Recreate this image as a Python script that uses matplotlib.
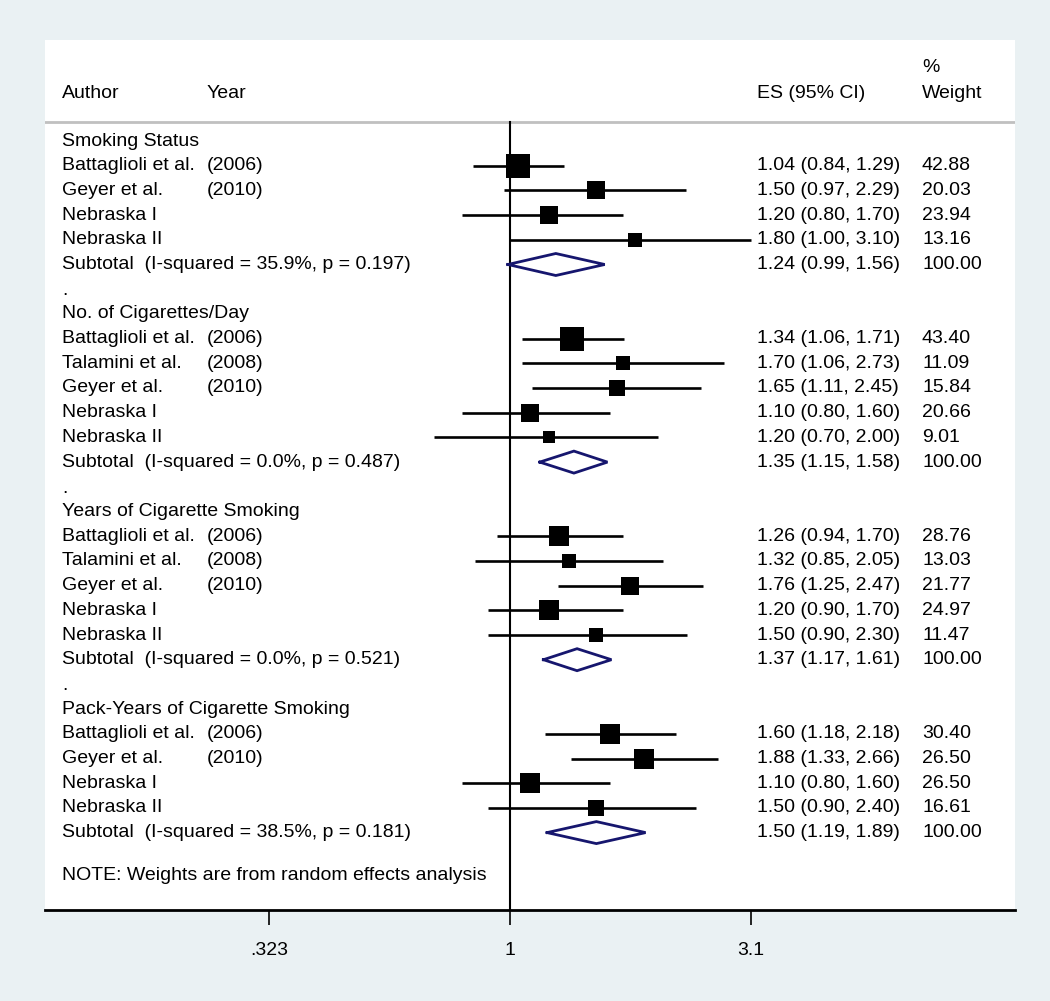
import numpy as np
import matplotlib
matplotlib.use("Agg")
import matplotlib.pyplot as plt
import matplotlib.transforms as mtransforms

plt.rcParams['font.family'] = ['Liberation Sans', 'DejaVu Sans']

# ---- data ----
groups = ["Smoking Status", "No. of Cigarettes/Day",
          "Years of Cigarette Smoking", "Pack-Years of Cigarette Smoking"]

authors = [
    ["Battaglioli et al.", "Geyer et al.", "Nebraska I", "Nebraska II"],
    ["Battaglioli et al.", "Talamini et al.", "Geyer et al.", "Nebraska I", "Nebraska II"],
    ["Battaglioli et al.", "Talamini et al.", "Geyer et al.", "Nebraska I", "Nebraska II"],
    ["Battaglioli et al.", "Geyer et al.", "Nebraska I", "Nebraska II"],
]
years = [
    ["(2006)", "(2010)", "", ""],
    ["(2006)", "(2008)", "(2010)", "", ""],
    ["(2006)", "(2008)", "(2010)", "", ""],
    ["(2006)", "(2010)", "", ""],
]
es = [
    [1.04, 1.50, 1.20, 1.80],
    [1.34, 1.70, 1.65, 1.10, 1.20],
    [1.26, 1.32, 1.76, 1.20, 1.50],
    [1.60, 1.88, 1.10, 1.50],
]
lo = [
    [0.84, 0.97, 0.80, 1.00],
    [1.06, 1.06, 1.11, 0.80, 0.70],
    [0.94, 0.85, 1.25, 0.90, 0.90],
    [1.18, 1.33, 0.80, 0.90],
]
hi = [
    [1.29, 2.29, 1.70, 3.10],
    [1.71, 2.73, 2.45, 1.60, 2.00],
    [1.70, 2.05, 2.47, 1.70, 2.30],
    [2.18, 2.66, 1.60, 2.40],
]
weights = [
    [42.88, 20.03, 23.94, 13.16],
    [43.40, 11.09, 15.84, 20.66, 9.01],
    [28.76, 13.03, 21.77, 24.97, 11.47],
    [30.40, 26.50, 26.50, 16.61],
]
sub_label = ["(I-squared = 35.9%, p = 0.197)", "(I-squared = 0.0%, p = 0.487)",
             "(I-squared = 0.0%, p = 0.521)", "(I-squared = 38.5%, p = 0.181)"]
sub_es = [1.24, 1.35, 1.37, 1.50]
sub_lo = [0.99, 1.15, 1.17, 1.19]
sub_hi = [1.56, 1.58, 1.61, 1.89]

xticks = [0.323, 1, 3.1]
xtick_labels = [".323", "1", "3.1"]

# ---- figure ----
W, H = 1050, 1001
fig = plt.figure(figsize=(W / 100, H / 100), dpi=100)
fig.patch.set_facecolor("#EAF1F3")

left, right, top, bottom = 45, 1015, 40, 910
ax = fig.add_axes([left / W, 1 - bottom / H, (right - left) / W, (bottom - top) / H])
ax.set_facecolor("white")

# x: log scale, 1 at px 510, ~213 px per ln unit
px_per_ln = 213.0
x0 = 510
ax.set_xscale("log")
ax.set_xlim(np.exp((left - x0) / px_per_ln), np.exp((right - x0) / px_per_ln))

# y in row units: row 0 at px 141, 24.7 px per row
row_px = 24.7
r_top = (top - 141) / row_px
r_bot = (bottom - 141) / row_px
ax.set_ylim(r_bot, r_top)

for s in ["top", "left", "right"]:
    ax.spines[s].set_visible(False)
ax.spines["bottom"].set_linewidth(2)
ax.set_yticks([])
ax.set_xticks(xticks)
ax.set_xticklabels(xtick_labels)
ax.xaxis.set_minor_locator(matplotlib.ticker.NullLocator())
ax.tick_params(axis="x", length=11, width=1.2, labelsize=14, pad=12, color="black")

trans = mtransforms.blended_transform_factory(ax.transAxes, ax.transData)


def ax_x(px):
    return (px - left) / (right - left)


fs = 14
col_author, col_year, col_es, col_w = ax_x(62), ax_x(207), ax_x(757), ax_x(922)

# header
r_head = (93 - 141) / row_px
ax.text(col_author, r_head, "Author", transform=trans, fontsize=fs, va="center")
ax.text(col_year, r_head, "Year", transform=trans, fontsize=fs, va="center")
ax.text(col_es, r_head, "ES (95% CI)", transform=trans, fontsize=fs, va="center")
ax.text(col_w, r_head, "Weight", transform=trans, fontsize=fs, va="center")
ax.text(col_w, (68 - 141) / row_px, "%", transform=trans, fontsize=fs, va="center")

r_sep = (122 - 141) / row_px
ax.axhline(r_sep, color="#C0C0C0", lw=2)
ax.plot([1, 1], [r_sep, r_bot], color="black", lw=1.5, zorder=3)

row = 0
for g in range(len(groups)):
    ax.text(col_author, row, groups[g], transform=trans, fontsize=fs, va="center")
    row += 1
    for i in range(len(es[g])):
        ax.text(col_author, row, authors[g][i], transform=trans, fontsize=fs, va="center")
        ax.text(col_year, row, years[g][i], transform=trans, fontsize=fs, va="center")
        ax.text(col_es, row, f"{es[g][i]:.2f} ({lo[g][i]:.2f}, {hi[g][i]:.2f})",
                transform=trans, fontsize=fs, va="center")
        ax.text(col_w, row, f"{weights[g][i]:.2f}", transform=trans, fontsize=fs, va="center")
        ax.plot([lo[g][i], hi[g][i]], [row, row], color="black", lw=1.9, zorder=4,
                solid_capstyle="butt")
        side_px = 2.3 + 3.38 * np.sqrt(weights[g][i])
        ax.plot(es[g][i], row, marker="s", ms=side_px * 0.72, color="black",
                mec="black", mew=0, zorder=5)
        row += 1
    # subtotal
    ax.text(col_author, row, "Subtotal  " + sub_label[g], transform=trans, fontsize=fs, va="center")
    ax.text(col_es, row, f"{sub_es[g]:.2f} ({sub_lo[g]:.2f}, {sub_hi[g]:.2f})",
            transform=trans, fontsize=fs, va="center")
    ax.text(col_w, row, "100.00", transform=trans, fontsize=fs, va="center")
    half = 11 / row_px
    ax.plot([sub_lo[g], sub_es[g], sub_hi[g], sub_es[g], sub_lo[g]],
            [row, row - half, row, row + half, row],
            color="#16166E", lw=2, zorder=6, solid_joinstyle="miter")
    row += 1
    if g < len(groups) - 1:
        ax.text(col_author, row + 0.05, ".", transform=trans, fontsize=fs, va="center")
        row += 1

ax.text(col_author, (875 - 141) / row_px, "NOTE: Weights are from random effects analysis",
        transform=trans, fontsize=fs, va="center")

fig.savefig("out.png", dpi=100, facecolor=fig.get_facecolor())
